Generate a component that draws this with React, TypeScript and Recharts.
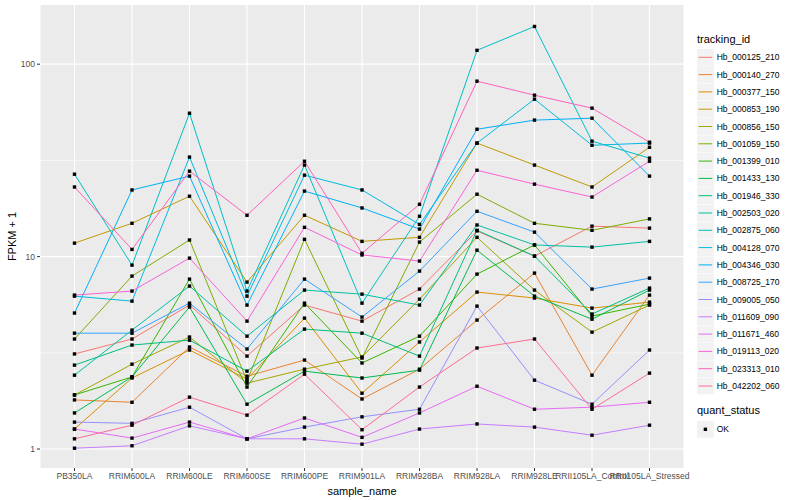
import React from 'react';
import { LineChart, Line, XAxis, YAxis, CartesianGrid } from 'recharts';

const SAMPLES = [
  'PB350LA', 'RRIM600LA', 'RRIM600LE', 'RRIM600SE', 'RRIM600PE', 'RRIM901LA',
  'RRIM928BA', 'RRIM928LA', 'RRIM928LE', 'RRII105LA_Control', 'RRII105LA_Stressed',
];

// FPKM + 1 per sample
const HB_000125_210 = [3.12, 3.73, 5.6, 3.04, 5.6, 4.62, 6.78, 13.6, 10.06, 14.4, 14.06];
const HB_000140_270 = [1.8, 1.75, 3.39, 2.39, 2.9, 1.82, 2.6, 4.68, 8.21, 2.42, 6.31];
const HB_000377_150 = [1.27, 2.34, 3.27, 2.31, 4.79, 1.95, 3.6, 6.54, 6.09, 5.4, 5.8];
const HB_000853_190 = [11.75, 14.9, 20.6, 7.37, 16.4, 12.0, 12.6, 38.9, 29.9, 23.0, 37.0];
const HB_000856_150 = [1.91, 2.76, 3.82, 2.2, 2.6, 3.01, 6.01, 12.6, 6.7, 4.05, 5.6];
const HB_001059_150 = [3.73, 7.92, 12.2, 2.26, 12.3, 2.97, 11.9, 21.1, 14.9, 13.7, 15.7];
const HB_001399_010 = [1.91, 2.37, 7.64, 2.1, 5.73, 2.8, 3.86, 8.11, 11.5, 4.91, 5.66];
const HB_001433_130 = [1.54, 2.37, 5.47, 1.71, 2.54, 2.34, 2.57, 10.8, 6.23, 4.73, 6.7];
const HB_001946_330 = [2.73, 3.47, 3.68, 2.54, 4.2, 4.0, 3.04, 13.7, 10.06, 5.03, 6.86];
const HB_002503_020 = [2.42, 4.15, 7.03, 3.86, 6.7, 6.38, 5.6, 14.6, 11.5, 11.2, 12.0];
const HB_002875_060 = [26.8, 9.03, 55.6, 6.62, 29.9, 5.73, 16.2, 118, 157, 39.8, 32.5];
const HB_004128_070 = [6.23, 5.87, 32.9, 6.23, 26.5, 22.2, 14.7, 38.9, 65.8, 37.9, 38.9];
const HB_004346_030 = [5.09, 22.2, 26.2, 5.6, 21.9, 17.9, 13.9, 45.9, 51.2, 52.4, 26.2];
const HB_008725_170 = [4.0, 4.0, 5.73, 3.31, 7.64, 4.85, 8.41, 17.2, 13.4, 6.78, 7.73];
const HB_009005_050 = [1.38, 1.36, 1.65, 1.13, 1.3, 1.47, 1.61, 5.53, 2.28, 1.71, 3.27];
const HB_011609_090 = [1.01, 1.04, 1.32, 1.13, 1.13, 1.06, 1.27, 1.35, 1.3, 1.18, 1.33];
const HB_011671_460 = [1.27, 1.14, 1.38, 1.13, 1.45, 1.15, 1.54, 2.12, 1.61, 1.65, 1.75];
const HB_019113_020 = [6.31, 6.62, 9.82, 4.62, 14.2, 10.2, 9.48, 28.1, 23.8, 20.4, 31.3];
const HB_023313_010 = [23.0, 10.9, 27.8, 16.4, 31.3, 10.4, 18.7, 81.6, 69.0, 59.1, 39.3];
const HB_042202_060 = [1.13, 1.33, 1.86, 1.5, 2.45, 1.26, 2.1, 3.35, 3.73, 1.61, 2.48];

const TRACKING_IDS = [
  'Hb_000125_210', 'Hb_000140_270', 'Hb_000377_150', 'Hb_000853_190', 'Hb_000856_150',
  'Hb_001059_150', 'Hb_001399_010', 'Hb_001433_130', 'Hb_001946_330', 'Hb_002503_020',
  'Hb_002875_060', 'Hb_004128_070', 'Hb_004346_030', 'Hb_008725_170', 'Hb_009005_050',
  'Hb_011609_090', 'Hb_011671_460', 'Hb_019113_020', 'Hb_023313_010', 'Hb_042202_060',
];

const SERIES = [
  HB_000125_210, HB_000140_270, HB_000377_150, HB_000853_190, HB_000856_150,
  HB_001059_150, HB_001399_010, HB_001433_130, HB_001946_330, HB_002503_020,
  HB_002875_060, HB_004128_070, HB_004346_030, HB_008725_170, HB_009005_050,
  HB_011609_090, HB_011671_460, HB_019113_020, HB_023313_010, HB_042202_060,
];

// ggplot default hue palette, 20 levels
const COLORS = [
  '#F8766D', '#EA8331', '#D89000', '#C09B00', '#A3A500',
  '#7CAE00', '#39B600', '#00BB4E', '#00BF7D', '#00C1A3',
  '#00BFC4', '#00BAE0', '#00B0F6', '#35A2FF', '#9590FF',
  '#C77CFF', '#E76BF3', '#FA62DB', '#FF62BC', '#FF6C91',
];

const Y_TICKS = [1, 10, 100];
const Y_MINOR = [3.1623, 31.623];

const FONT = '"Liberation Sans", Arial, Helvetica, sans-serif';

const chartData = SAMPLES.map((s, i) => {
  const row: Record<string, string | number> = { sample_name: s };
  TRACKING_IDS.forEach((id, k) => { row[id] = SERIES[k][i]; });
  return row;
});

const SquareDot = (props: any) => {
  const { cx, cy, index } = props;
  if (cx == null || cy == null) return null;
  return <rect key={index} x={cx - 1.7} y={cy - 1.7} width={3.4} height={3.4} fill="#000" />;
};

function LegendPanel() {
  const x0 = 13;
  const rowY = (i: number) => 57.3 + i * 17.3;
  return (
    <svg width={116} height={460} style={{ position: 'absolute', left: 684, top: 0 }}>
      <text x={x0} y={43} fontSize={11} fontFamily={FONT} fill="#000">tracking_id</text>
      {TRACKING_IDS.map((id, i) => (
        <g key={id}>
          <rect x={x0} y={rowY(i) - 8.4} width={16.8} height={16.8} fill="#F2F2F2" />
          <line x1={x0 + 1.6} x2={x0 + 15.2} y1={rowY(i)} y2={rowY(i)} stroke={COLORS[i]} strokeWidth={1} />
          <text x={x0 + 19.7} y={rowY(i) + 3} fontSize={8.5} fontFamily={FONT} fill="#000">{id}</text>
        </g>
      ))}
      <text x={x0} y={414} fontSize={11} fontFamily={FONT} fill="#000">quant_status</text>
      <rect x={x0} y={429.3 - 8.4} width={16.8} height={16.8} fill="#F2F2F2" />
      <rect x={x0 + 6.7} y={429.3 - 1.7} width={3.4} height={3.4} fill="#000" />
      <text x={x0 + 19.7} y={432.3} fontSize={8.5} fontFamily={FONT} fill="#000">OK</text>
    </svg>
  );
}

export default function App() {
  const tickStyle = { fontSize: 8.5, fill: '#4D4D4D', fontFamily: FONT };
  return (
    <div style={{ position: 'relative', width: 800, height: 500, background: '#fff', fontFamily: FONT }}>
      <style>{'body { margin: 0; }'}</style>
      <LineChart width={800} height={500} data={chartData} margin={{ top: 5, right: 116, bottom: 0, left: 0 }}>
        <CartesianGrid fill="#EBEBEB" fillOpacity={1} stroke="#FFFFFF" strokeWidth={1.1} horizontalValues={Y_TICKS} />
        <CartesianGrid stroke="#FFFFFF" strokeWidth={0.55} vertical={false} horizontalValues={Y_MINOR} />
        <XAxis
          dataKey="sample_name"
          interval={0}
          padding={{ left: 34.5, right: 34.5 }}
          height={32}
          tick={tickStyle}
          tickSize={3}
          tickMargin={2}
          tickLine={{ stroke: '#333333' }}
          axisLine={false}
          label={{ value: 'sample_name', position: 'insideBottom', offset: 5, style: { fontSize: 11, fill: '#000', fontFamily: FONT } }}
        />
        <YAxis
          type="number"
          scale="log"
          domain={[0.797, 203]}
          allowDataOverflow
          ticks={Y_TICKS}
          width={40}
          tick={tickStyle}
          tickSize={3}
          tickMargin={2}
          tickLine={{ stroke: '#333333' }}
          axisLine={false}
          label={{ value: 'FPKM + 1', angle: -90, position: 'insideLeft', offset: 12, style: { textAnchor: 'middle', fontSize: 11, fill: '#000', fontFamily: FONT } }}
        />
        {TRACKING_IDS.map((id, k) => (
          <Line
            key={id}
            type="linear"
            dataKey={id}
            stroke={COLORS[k]}
            strokeWidth={1}
            dot={false}
            activeDot={false}
            isAnimationActive={false}
          />
        ))}
        {TRACKING_IDS.map((id) => (
          <Line
            key={`${id}-pts`}
            type="linear"
            dataKey={id}
            stroke="none"
            dot={SquareDot}
            activeDot={false}
            legendType="none"
            isAnimationActive={false}
          />
        ))}
      </LineChart>
      <LegendPanel />
    </div>
  );
}
